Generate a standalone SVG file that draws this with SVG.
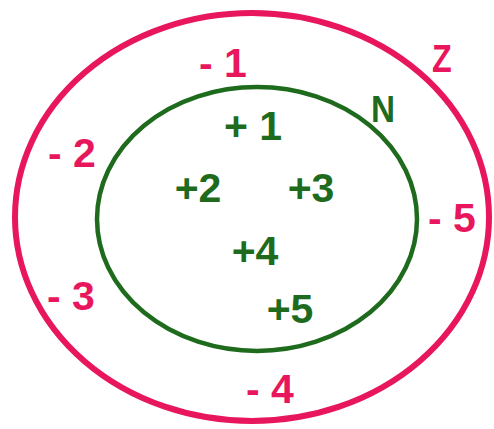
<svg xmlns="http://www.w3.org/2000/svg" width="494" height="429" viewBox="0 0 494 429">
<style>
.t{font-family:"Liberation Sans",Arial,sans-serif;font-weight:bold;text-anchor:middle}
.p{fill:#e8175d}
.g{fill:#1e6b1e}
</style>
<rect width="494" height="429" fill="#fff"/>
<g id="Z">
<ellipse cx="252" cy="217" rx="237" ry="204" fill="none" stroke="#e8175d" stroke-width="6"/>
<text class="t p" x="442" y="72" font-size="38" transform="translate(442 0) scale(0.85 1) translate(-442 0)">Z</text>
</g>
<g id="N">
<ellipse cx="257" cy="219" rx="160" ry="132" fill="none" stroke="#1e6b1e" stroke-width="4.5"/>
<text class="t g" x="383" y="122" font-size="37" transform="translate(383 0) scale(0.9 1) translate(-383 0)">N</text>
</g>
<g id="neg" font-size="41">
<text class="t p" x="223" y="77">- 1</text>
<text class="t p" x="72" y="167">- 2</text>
<text class="t p" x="71" y="310">- 3</text>
<text class="t p" x="270" y="403">- 4</text>
<text class="t p" x="452" y="232">- 5</text>
</g>
<g id="pos" font-size="41">
<text class="t g" x="253" y="140">+ 1</text>
<text class="t g" x="198" y="202">+2</text>
<text class="t g" x="311" y="202">+3</text>
<text class="t g" x="255" y="265">+4</text>
<text class="t g" x="290" y="323">+5</text>
</g>
</svg>
